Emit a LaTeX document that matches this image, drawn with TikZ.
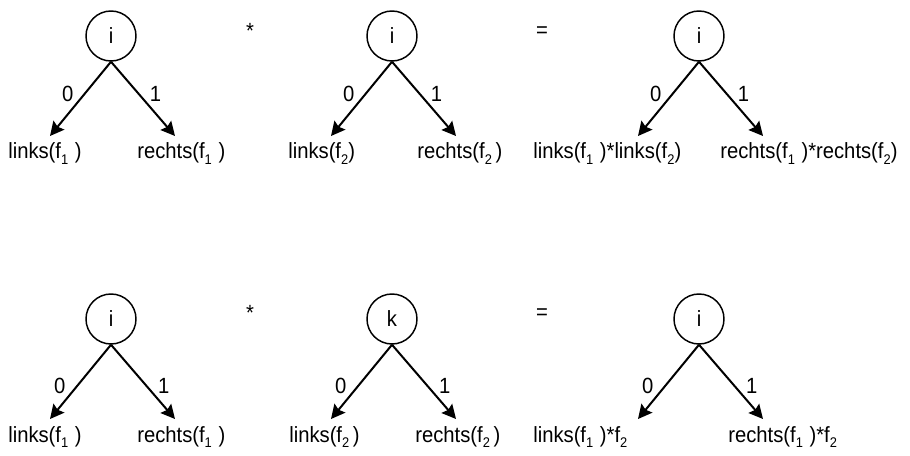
\documentclass[tikz,border=0pt]{standalone}
\usepackage{fontspec}
\setmainfont{Liberation Sans}[FakeStretch=0.92]
\usepackage{tikz}
\usetikzlibrary{calc,arrows.meta}

% lowered index for f_1 and f_2
\newcommand{\idx}[1]{\raisebox{-0.5ex}{\fontsize{10.5}{11}\selectfont #1}}
\newcommand{\fone}{f\idx{1}\hspace{0.3em}}
\newcommand{\ftwo}{f\idx{2}}

\begin{document}
\begin{tikzpicture}[x=0.75pt,y=-0.75pt,
  every node/.append style={font=\fontsize{16.5}{19}\selectfont},
  var/.style={draw,circle,line width=1.1pt,minimum size=37.5pt,inner sep=0pt},
  edge/.style={line width=1.5pt,-{Stealth[length=10.5pt,width=10.5pt,inset=1.5pt]}},
  elab/.style={inner sep=0pt},
  leaf/.style={anchor=base west,inner sep=0pt},
  op/.style={inner sep=0pt}]
\useasboundingbox (0,0) rectangle (910,456);
% one variable node with its 0- and 1-edge
% #1 name, #2/#3 centre, #4 variable, #5 label pos on edge,
% #6/#7 left leaf x/text, #8/#9 right leaf x/text
\newcommand{\bddtree}[9]{
  \node[var] (#1) at (#2,#3) {#4};
  \coordinate (#1l) at ($(#1)+(-61,100)$);
  \coordinate (#1r) at ($(#1)+(64,100)$);
  \draw[edge] (#1.south) -- node[elab,pos=#5,xshift=-12.75pt] (#1zero) {0} (#1l);
  \draw[edge] (#1.south) -- node[elab,pos=#5,xshift=12.75pt] (#1one) {1} (#1r);
  \node[leaf] (#1lt) at (#6,#3+123) {#7};
  \node[leaf] (#1rt) at (#8,#3+123) {#9};
}
% f1 * f2, same variable on top
\bddtree{a}{111}{36}{i}{0.43}{8}{links(\fone)}{137}{rechts(\fone)}
\node[op] (mul1) at (250,31) {*};
\bddtree{b}{392}{36}{i}{0.43}{288}{links(\ftwo)}{417}{rechts(\ftwo\,)}
\node[op] (eq1) at (542,32) {=};
\bddtree{c}{699}{36}{i}{0.43}{533}{links(\fone)*links(\ftwo)}{720}{rechts(\fone)*rechts(\ftwo)}
% f1 * f2, different variables
\bddtree{d}{111}{319}{i}{0.56}{8}{links(\fone)}{137}{rechts(\fone)}
\node[op] (mul2) at (250,313) {*};
\bddtree{e}{392}{319}{k}{0.56}{289}{links(\ftwo\,)}{415}{rechts(\ftwo\,)}
\node[op] (eq2) at (542,314) {=};
\bddtree{g}{699}{319}{i}{0.56}{533}{links(\fone)*\ftwo}{728}{rechts(\fone)*\ftwo}
\end{tikzpicture}
\end{document}
